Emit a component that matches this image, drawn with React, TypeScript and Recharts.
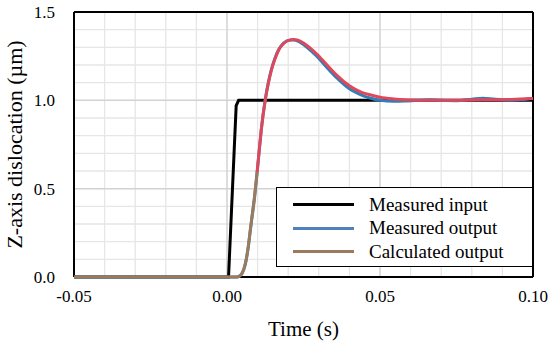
import React from 'react';
import { LineChart, Line, XAxis, YAxis, ReferenceLine, Legend } from 'recharts';

const FONT = '"Liberation Serif", "Times New Roman", serif';

const inputTime = [-0.05, 0.0005, 0.003, 0.0038, 0.1];
const inputValue = [0, 0, 0.97, 1.0, 1.0];

const outTime = [-0.05, 0.003, 0.004, 0.005, 0.006, 0.007, 0.0076, 0.008, 0.009, 0.0098, 0.0105, 0.0112, 0.0125, 0.0135, 0.0145, 0.0157, 0.0169, 0.0185, 0.0207, 0.0218, 0.023, 0.025, 0.027, 0.029, 0.0327, 0.036, 0.04, 0.044, 0.047, 0.05, 0.0545, 0.058, 0.062, 0.066, 0.07, 0.075, 0.08, 0.0835, 0.087, 0.092, 0.096, 0.1];
const measuredOutput = [0, 0, 0.004, 0.022, 0.072, 0.175, 0.26, 0.315, 0.45, 0.585, 0.71, 0.835, 1.005, 1.1, 1.175, 1.24, 1.288, 1.324, 1.341, 1.342, 1.337, 1.316, 1.287, 1.255, 1.185, 1.125, 1.065, 1.03, 1.012, 1.0, 0.995, 0.996, 1.0, 1.003, 1.0, 0.998, 1.006, 1.012, 1.008, 1.0, 1.004, 1.01];
const calculatedOutput = [0, 0, 0.005, 0.025, 0.077, 0.18, 0.266, 0.32, 0.455, 0.587, 0.71, 0.832, 1.0, 1.095, 1.17, 1.235, 1.285, 1.322, 1.342, 1.345, 1.342, 1.325, 1.298, 1.268, 1.2, 1.14, 1.082, 1.045, 1.03, 1.018, 1.008, 1.003, 1.001, 1.0, 1.0, 1.0, 1.002, 1.004, 1.004, 1.005, 1.008, 1.01];

const xTicks = [-0.05, 0, 0.05, 0.1];
const yTicks = [0, 0.5, 1.0, 1.5];
const xMinor = [-0.04, -0.03, -0.02, -0.01, 0.01, 0.02, 0.03, 0.04, 0.06, 0.07, 0.08, 0.09];
const yMinor = [0.1, 0.2, 0.3, 0.4, 0.6, 0.7, 0.8, 0.9, 1.1, 1.2, 1.3, 1.4];
const xMajor = [0, 0.05];
const yMajor = [0.5, 1.0];

const seriesNames = ['Measured input', 'Measured output', 'Calculated output'];
const seriesColors = ['#000000', '#2e7fb8', '#e0475a'];
const legendColors = ['#000000', '#4f81bd', '#9c7a5c'];

const inputData = inputTime.map((t, i) => ({ t, v: inputValue[i] }));
const measuredData = outTime.map((t, i) => ({ t, v: measuredOutput[i] }));
const calcData = outTime.map((t, i) => ({ t, v: calculatedOutput[i] }));

const LegendBox = () => (
  <div
    style={{
      width: 257,
      height: 80,
      boxSizing: 'border-box',
      border: '1.5px solid #000',
      background: '#fff',
      fontFamily: FONT,
      fontSize: 19,
      color: '#000',
      paddingTop: 5,
    }}
  >
    {seriesNames.map((n, i) => (
      <div key={n} style={{ display: 'flex', alignItems: 'center', height: 23.5 }}>
        <div style={{ marginLeft: 16, width: 61, height: 3, background: legendColors[i] }} />
        <span style={{ marginLeft: 15, lineHeight: '20px' }}>{n}</span>
      </div>
    ))}
  </div>
);

const XTick = (props: any) => {
  const { x, y, payload } = props;
  return (
    <text x={x} y={y} dy="0.71em" textAnchor="middle" fill="#000" fontSize={17} fontFamily={FONT}>
      {Number(payload.value).toFixed(2)}
    </text>
  );
};

const YTick = (props: any) => {
  const { x, y, payload } = props;
  return (
    <text x={x} y={y} dy="0.35em" textAnchor="end" fill="#000" fontSize={17} fontFamily={FONT}>
      {Number(payload.value).toFixed(1)}
    </text>
  );
};

export default function App() {
  const lineProps: any = { zIndex: 700 };
  return (
    <div style={{ position: 'fixed', left: 0, top: 0, width: 550, height: 344, background: '#fff', fontFamily: FONT }}>
      <LineChart width={550} height={344} margin={{ top: 12, right: 17, left: 0, bottom: 0 }}>
        <defs>
          <linearGradient id="calcGrad" x1="0" y1="0" x2="0" y2="1">
            <stop offset="0" stopColor="#e0475a" />
            <stop offset="0.56" stopColor="#e0475a" />
            <stop offset="0.56" stopColor="#9c7a5c" />
            <stop offset="1" stopColor="#9c7a5c" />
          </linearGradient>
        </defs>
        {xMinor.map((x) => (
          <ReferenceLine key={'xm' + x} x={x} stroke="#e6e6e6" strokeWidth={1.3} />
        ))}
        {yMinor.map((y) => (
          <ReferenceLine key={'ym' + y} y={y} stroke="#e6e6e6" strokeWidth={1.3} />
        ))}
        {xMajor.map((x) => (
          <ReferenceLine key={'xM' + x} x={x} stroke="#d2d2d2" strokeWidth={1.5} />
        ))}
        {yMajor.map((y) => (
          <ReferenceLine key={'yM' + y} y={y} stroke="#d2d2d2" strokeWidth={1.5} />
        ))}
        <ReferenceLine y={1.5} stroke="#000" strokeWidth={2} />
        <ReferenceLine x={0.1} stroke="#000" strokeWidth={2} />
        <XAxis
          dataKey="t"
          type="number"
          domain={[-0.05, 0.1]}
          ticks={xTicks}
          tick={<XTick />}
          tickLine={false}
          tickSize={0}
          tickMargin={13}
          axisLine={{ stroke: '#000', strokeWidth: 2 }}
          height={67}
          label={{ value: 'Time (s)', position: 'insideBottom', offset: 8, fill: '#000', fontSize: 21, fontFamily: FONT }}
        />
        <YAxis
          dataKey="v"
          type="number"
          domain={[0, 1.5]}
          ticks={yTicks}
          tick={<YTick />}
          tickLine={false}
          tickSize={0}
          tickMargin={19}
          axisLine={{ stroke: '#000', strokeWidth: 2 }}
          width={74}
          label={{ value: 'Z-axis dislocation (µm)', angle: -90, position: 'insideLeft', offset: 14, fill: '#000', fontSize: 22, fontFamily: FONT, style: { textAnchor: 'middle' } }}
        />
        <Line {...lineProps} data={inputData} dataKey="v" name={seriesNames[0]} type="linear" stroke={seriesColors[0]} strokeWidth={3} dot={false} isAnimationActive={false} />
        <Line {...lineProps} data={measuredData} dataKey="v" name={seriesNames[1]} type="monotone" stroke={seriesColors[1]} strokeWidth={3} dot={false} isAnimationActive={false} />
        <Line {...lineProps} data={calcData} dataKey="v" name={seriesNames[2]} type="monotone" stroke="url(#calcGrad)" strokeWidth={3} dot={false} isAnimationActive={false} />
        <Legend
          layout="horizontal"
          verticalAlign="middle"
          align="center"
          content={() => <LegendBox />}
          wrapperStyle={{ position: 'absolute', left: 276, top: 187, width: 257, height: 80 }}
        />
      </LineChart>
    </div>
  );
}
